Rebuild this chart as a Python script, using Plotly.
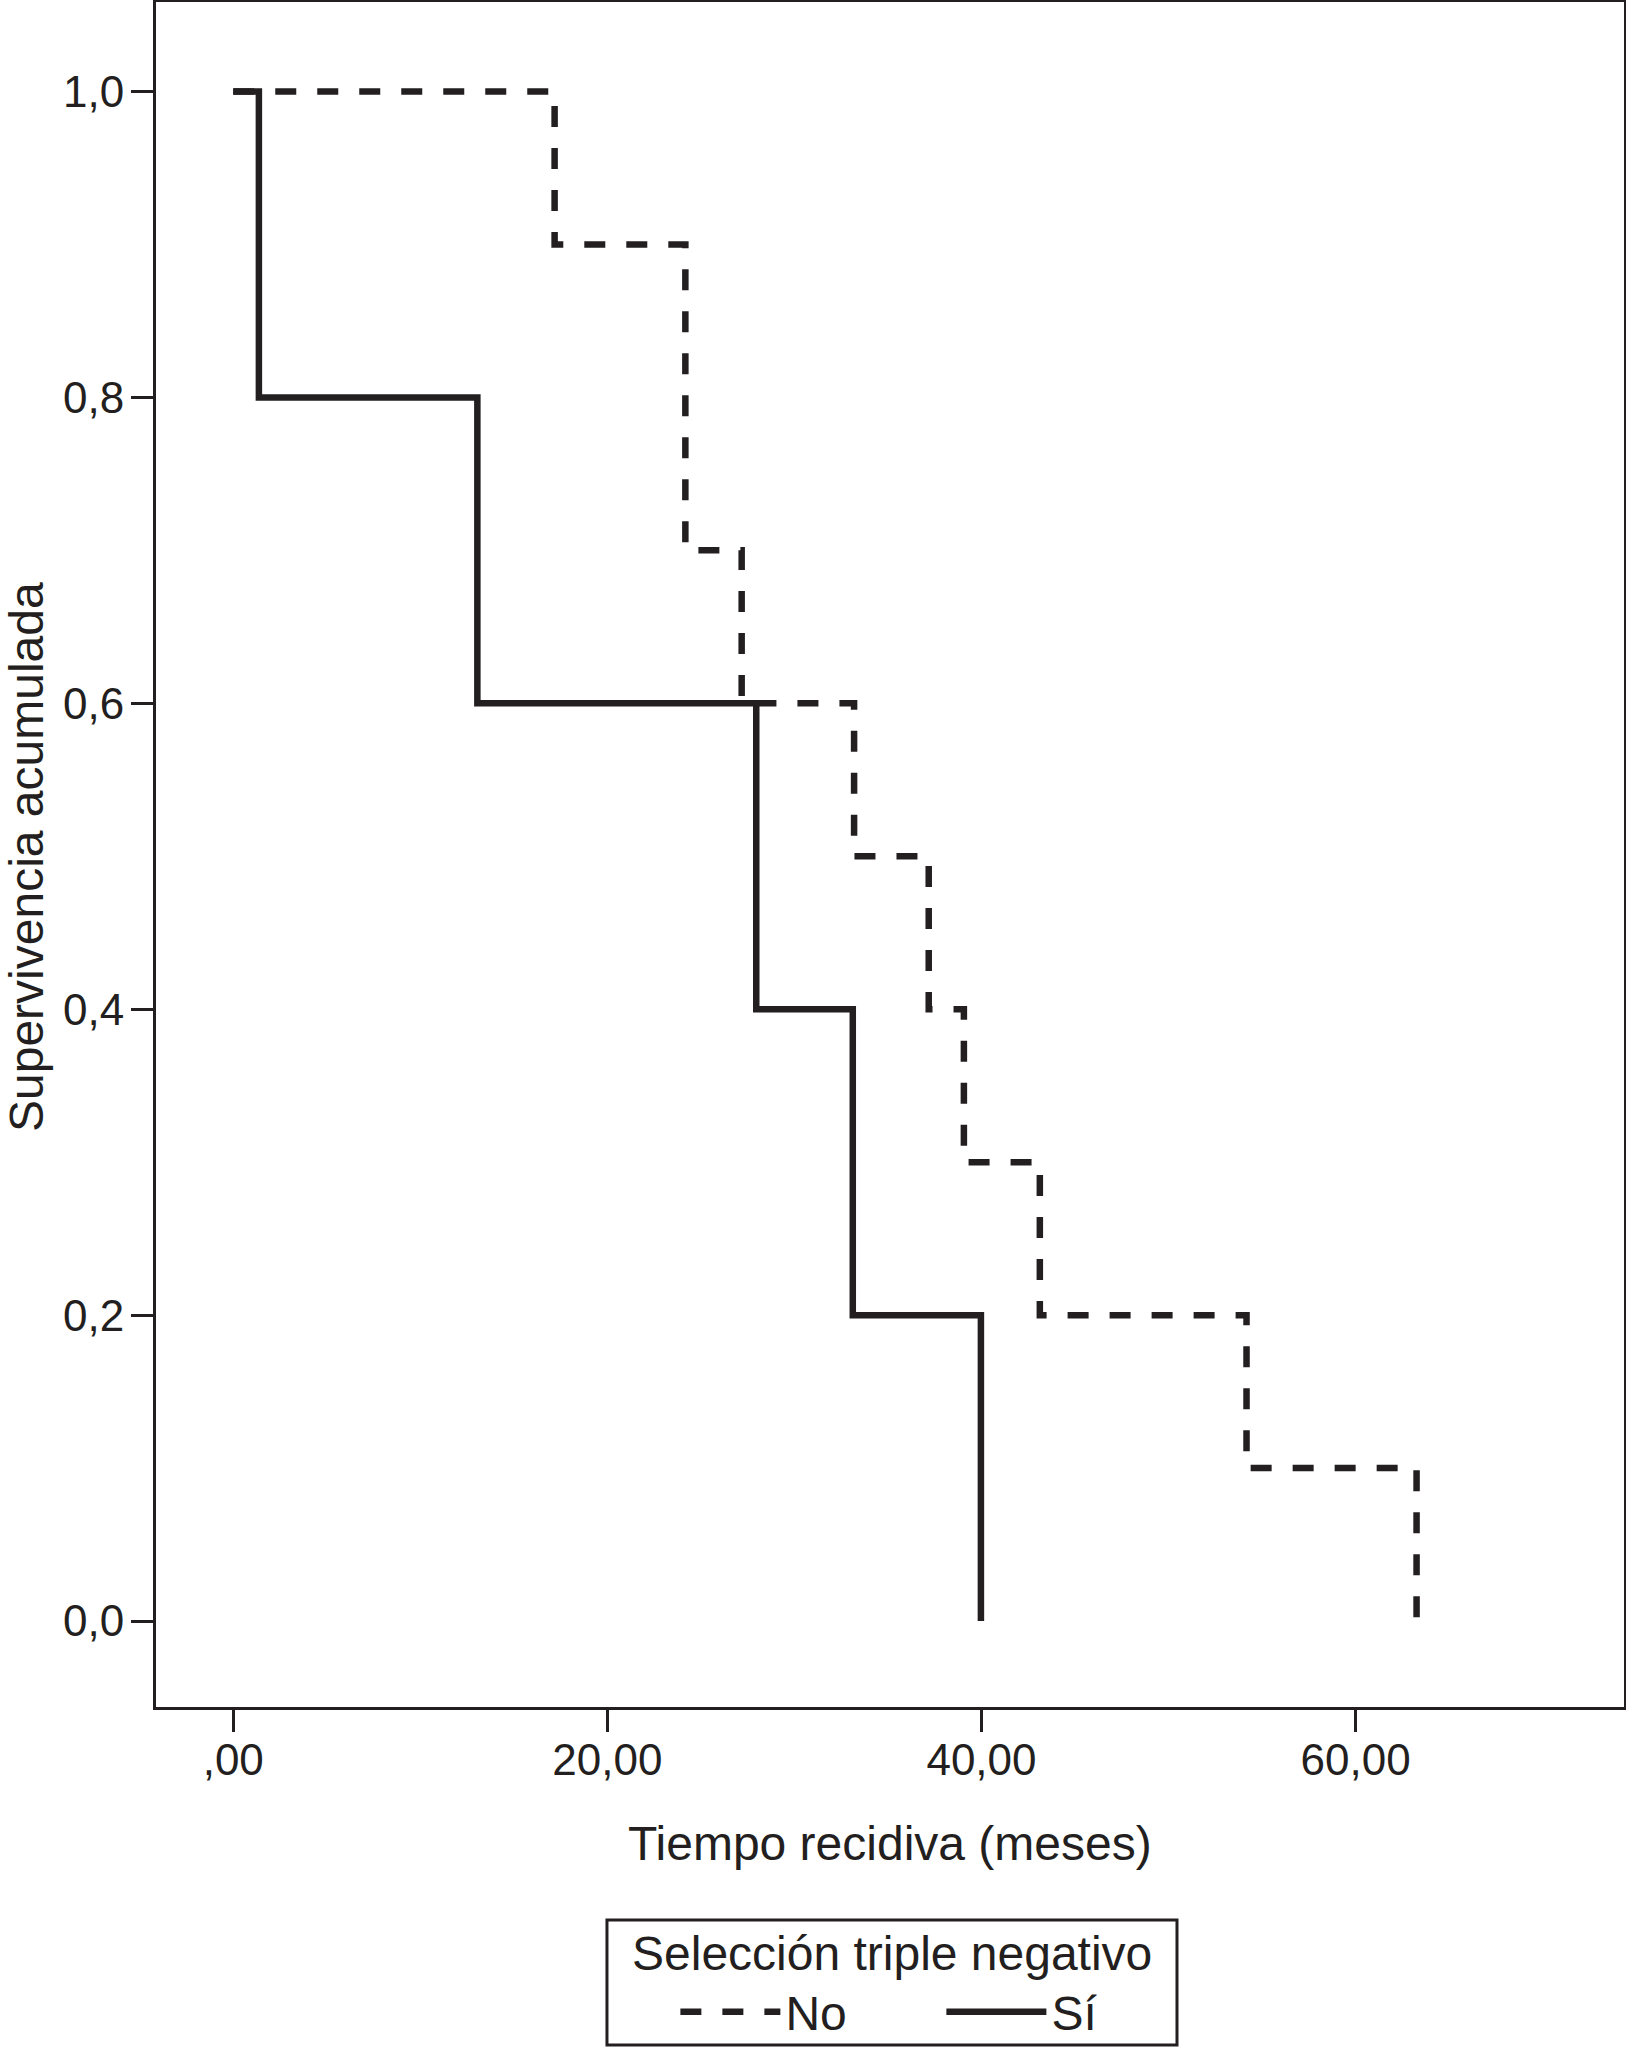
import plotly.graph_objects as go

# Kaplan-Meier step data
time_no = [0.0, 17.18, 24.17, 27.18, 33.19, 37.18, 39.06, 43.12, 54.17, 63.26]
surv_no = [1.0, 0.9, 0.7, 0.6, 0.5, 0.4, 0.3, 0.2, 0.1, 0.0]

time_si = [0.0, 1.37, 13.05, 27.96, 33.12, 39.97]
surv_si = [1.0, 0.8, 0.6, 0.4, 0.2, 0.0]

group_names = ["No", "Sí"]
legend_title = "Selección triple negativo"

x_tickvals = [0, 20, 40, 60]
x_ticktext = [",00", "20,00", "40,00", "60,00"]
y_tickvals = [0.0, 0.2, 0.4, 0.6, 0.8, 1.0]
y_ticktext = ["0,0", "0,2", "0,4", "0,6", "0,8", "1,0"]

INK = "#231f20"
FONT = "Liberation Sans, Arial, Helvetica, sans-serif"

fig = go.Figure()
fig.add_trace(go.Scatter(
    x=time_no, y=surv_no, mode="lines", name=group_names[0],
    line=dict(shape="hv", color=INK, width=6.5, dash="21px,21px"),
))
fig.add_trace(go.Scatter(
    x=time_si, y=surv_si, mode="lines", name=group_names[1],
    line=dict(shape="hv", color=INK, width=6.5),
))

axis_common = dict(
    showline=True, mirror=True, linecolor=INK, linewidth=3,
    ticks="outside", ticklen=22, tickwidth=3, tickcolor=INK,
    showgrid=False, zeroline=False,
    tickfont=dict(size=44, color=INK, family=FONT),
)
fig.update_xaxes(range=[-4.13, 74.35], tickvals=x_tickvals, ticktext=x_ticktext,
                 ticklabelstandoff=-10, **axis_common)
fig.update_yaxes(range=[-0.0562, 1.0585], tickvals=y_tickvals, ticktext=y_ticktext,
                 ticklabelstandoff=-2, **axis_common)

fig.add_annotation(text="Tiempo recidiva (meses)", xref="paper", yref="paper",
                   x=0.4997, y=-0.0799, xanchor="center", yanchor="middle",
                   showarrow=False, font=dict(size=48, color=INK, family=FONT))
fig.add_annotation(text="Supervivencia acumulada", xref="paper", yref="paper",
                   x=-0.0886, y=0.4985, xanchor="center", yanchor="middle",
                   textangle=-90, showarrow=False,
                   font=dict(size=48, color=INK, family=FONT))
# legend title and frame
fig.add_annotation(text=legend_title, xref="paper", yref="paper",
                   x=0.5014, y=-0.1443, xanchor="center", yanchor="middle",
                   showarrow=False, font=dict(size=48, color=INK, family=FONT))
fig.add_shape(type="rect", xref="paper", yref="paper",
              x0=0.3072, x1=0.6955, y0=-0.1982, y1=-0.1249,
              line=dict(color=INK, width=3), fillcolor="rgba(0,0,0,0)")

fig.update_layout(
    width=1626, height=2051,
    margin=dict(l=156, r=2, t=2, b=344, autoexpand=False),
    paper_bgcolor="white", plot_bgcolor="white",
    font=dict(family=FONT, color=INK, size=48),
    showlegend=True,
    legend=dict(
        orientation="h", x=0.3538, xanchor="left", y=-0.1566, yanchor="top",
        borderwidth=0, bgcolor="rgba(0,0,0,0)",
        font=dict(size=48, color=INK, family=FONT),
        entrywidth=151, itemwidth=100,
    ),
)

fig.write_html("out.html", config={"displayModeBar": False},
               post_script="document.body.style.margin='0';document.body.style.padding='0';")
